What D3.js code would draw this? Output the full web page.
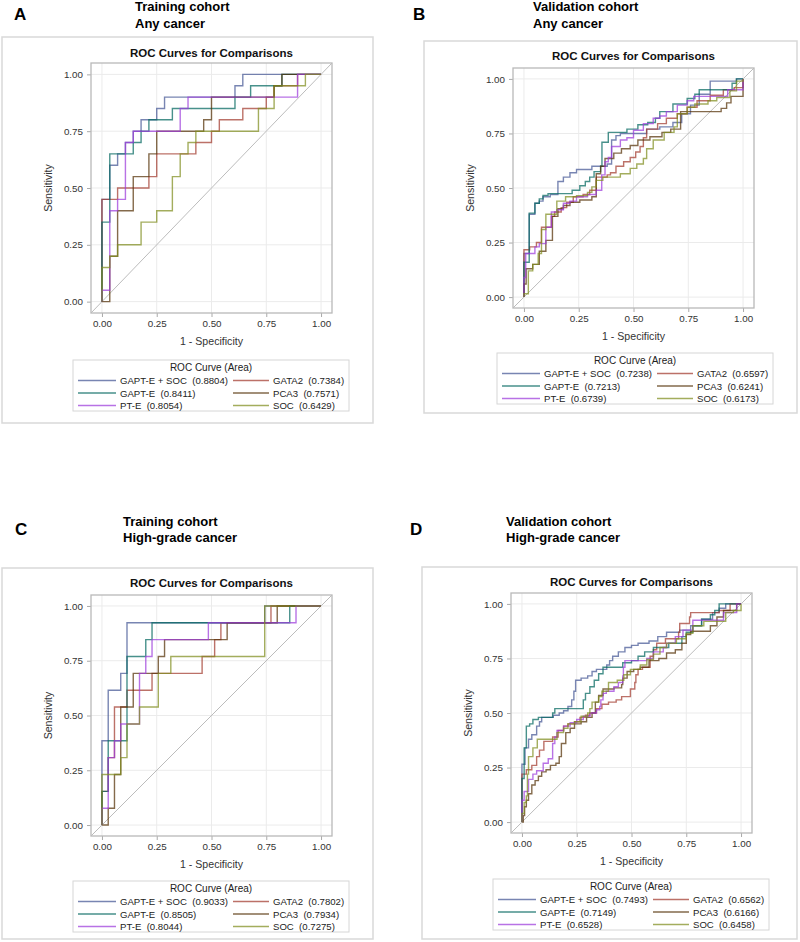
<!DOCTYPE html>
<html><head><meta charset="utf-8">
<script src="https://cdn.jsdelivr.net/npm/d3@7"></script>
<style>
body{margin:0;background:#fff;}
svg text{font-family:"Liberation Sans",Arial,Helvetica,sans-serif;white-space:pre;}
</style>
</head><body>
<svg id="chart" width="800" height="942"></svg>
<script>
// ---------------- DATA ----------------
const seriesNames = ["GAPT-E + SOC","GATA2","GAPT-E","PCA3","PT-E","SOC"];
const seriesColors = ["#445694","#A23A2E","#01665E","#543005","#9D3CDB","#7F8E1F"];
const tickValues = [0,0.25,0.5,0.75,1];
const tickLabels = ["0.00","0.25","0.50","0.75","1.00"];

// Panel A: training cohort, any cancer (points: [false positives count, true positives count]; 28 negatives, 20 positives)
const A_nNeg = 28, A_nPos = 20;
const A_gapteSoc = [[0,0],[0,9],[1,12],[2,13],[3,14],[4,15],[5,16],[7,17],[8,18],[17,19],[18,20],[28,20]];
const A_gata2    = [[0,0],[0,9],[2,10],[6,11],[7,13],[12,14],[14,15],[15,16],[18,17],[21,18],[22,19],[25,20],[28,20]];
const A_gapte    = [[0,0],[0,7],[1,13],[4,14],[5,15],[6,16],[9,17],[17,18],[19,19],[23,20],[28,20]];
const A_pca3     = [[0,0],[1,4],[2,8],[4,11],[6,13],[7,15],[13,16],[14,18],[22,19],[23,20],[28,20]];
const A_pte      = [[0,0],[0,1],[1,8],[2,9],[3,14],[4,15],[10,17],[11,18],[25,20],[28,20]];
const A_soc      = [[0,0],[0,3],[1,4],[2,5],[5,7],[7,8],[9,11],[10,13],[11,14],[12,15],[20,17],[22,19],[26,20],[28,20]];
const A_auc = ["0.8804","0.7384","0.8411","0.7571","0.8054","0.6429"];

// Panel B: validation cohort, any cancer ([1-specificity, sensitivity])
const B_gapteSoc = [[0,0],[0,0.2],[0.024,0.38],[0.05,0.43],[0.07,0.44],[0.087,0.46],[0.12,0.47],[0.155,0.53],[0.18,0.55],[0.21,0.57],[0.24,0.585],[0.31,0.6],[0.38,0.61],[0.40,0.72],[0.42,0.74],[0.44,0.75],[0.56,0.77],[0.62,0.78],[0.68,0.80],[0.72,0.84],[0.76,0.88],[0.80,0.93],[0.85,0.99],[0.97,1.0],[1,1]];
const B_gata2    = [[0,0],[0,0.217],[0.026,0.23],[0.057,0.25],[0.08,0.32],[0.125,0.37],[0.14,0.39],[0.17,0.41],[0.195,0.435],[0.225,0.46],[0.27,0.47],[0.3,0.49],[0.33,0.55],[0.38,0.56],[0.395,0.57],[0.42,0.6],[0.455,0.62],[0.485,0.64],[0.51,0.665],[0.53,0.69],[0.545,0.73],[0.56,0.77],[0.61,0.795],[0.65,0.82],[0.7,0.84],[0.745,0.87],[0.79,0.9],[0.85,0.925],[0.91,0.95],[0.96,0.96],[1.0,1.0]];
const B_gapte    = [[0,0],[0,0.16],[0.024,0.385],[0.05,0.43],[0.07,0.45],[0.087,0.466],[0.11,0.474],[0.22,0.49],[0.255,0.51],[0.28,0.53],[0.3,0.55],[0.32,0.575],[0.35,0.6],[0.356,0.71],[0.385,0.755],[0.47,0.77],[0.52,0.79],[0.565,0.80],[0.6,0.82],[0.62,0.85],[0.68,0.885],[0.745,0.91],[0.78,0.93],[0.80,0.95],[0.95,0.98],[0.97,1.0],[1,1]];
const B_pca3     = [[0,0],[0,0.06],[0.01,0.13],[0.04,0.15],[0.07,0.21],[0.1,0.26],[0.13,0.37],[0.155,0.405],[0.18,0.42],[0.21,0.435],[0.255,0.445],[0.31,0.46],[0.33,0.565],[0.35,0.6],[0.37,0.635],[0.41,0.66],[0.445,0.68],[0.485,0.695],[0.52,0.72],[0.575,0.735],[0.63,0.755],[0.67,0.77],[0.715,0.85],[0.9,0.865],[0.925,0.89],[0.945,0.92],[1.0,1.0]];
const B_pte      = [[0,0],[0,0.09],[0.008,0.2],[0.05,0.23],[0.07,0.245],[0.1,0.32],[0.125,0.39],[0.15,0.40],[0.18,0.43],[0.21,0.44],[0.24,0.46],[0.29,0.47],[0.33,0.49],[0.355,0.56],[0.37,0.62],[0.385,0.64],[0.40,0.69],[0.44,0.72],[0.47,0.73],[0.50,0.765],[0.545,0.795],[0.59,0.82],[0.62,0.83],[0.65,0.85],[0.70,0.88],[0.745,0.90],[0.775,0.92],[0.93,0.95],[1.0,1.0]];
const B_soc      = [[0,0],[0,0.015],[0.02,0.12],[0.04,0.15],[0.065,0.2],[0.08,0.31],[0.1,0.38],[0.15,0.44],[0.19,0.46],[0.24,0.465],[0.29,0.48],[0.31,0.505],[0.33,0.535],[0.36,0.55],[0.44,0.565],[0.485,0.59],[0.515,0.61],[0.545,0.635],[0.56,0.68],[0.59,0.72],[0.64,0.755],[0.685,0.78],[0.7,0.84],[0.745,0.87],[0.78,0.885],[0.84,0.9],[0.88,0.915],[0.94,0.945],[0.97,0.99],[1.0,1.0]];
const B_auc = ["0.7238","0.6597","0.7213","0.6241","0.6739","0.6173"];

// Panel C: training cohort, high-grade cancer (counts; 35 negatives, 13 positives)
const C_nNeg = 35, C_nPos = 13;
const C_gapteSoc = [[0,0],[0,5],[1,8],[3,9],[4,12],[26,13],[35,13]];
const C_gata2    = [[0,0],[0,2],[1,4],[2,7],[4,8],[8,9],[16,10],[18,11],[19,12],[27,13],[35,13]];
const C_gapte    = [[0,0],[0,2],[1,5],[4,10],[7,11],[8,12],[30,13],[35,13]];
const C_pca3     = [[0,0],[1,1],[2,3],[3,7],[5,9],[9,10],[10,11],[20,12],[28,13],[35,13]];
const C_pte      = [[0,0],[0,1],[1,4],[2,5],[3,6],[6,9],[7,10],[8,11],[17,12],[31,13],[35,13]];
const C_soc      = [[0,0],[0,3],[3,4],[4,6],[6,7],[9,9],[11,10],[26,13],[35,13]];
const C_auc = ["0.9033","0.7802","0.8505","0.7934","0.8044","0.7275"];

// Panel D: validation cohort, high-grade cancer ([1-specificity, sensitivity])
const D_gapteSoc = [[0,0],[0,0.265],[0.014,0.34],[0.03,0.38],[0.045,0.40],[0.067,0.44],[0.08,0.46],[0.09,0.48],[0.143,0.49],[0.17,0.50],[0.19,0.51],[0.21,0.53],[0.227,0.56],[0.237,0.6],[0.245,0.65],[0.27,0.66],[0.30,0.67],[0.32,0.69],[0.34,0.70],[0.387,0.72],[0.40,0.74],[0.414,0.76],[0.44,0.78],[0.47,0.80],[0.50,0.81],[0.53,0.82],[0.58,0.83],[0.62,0.85],[0.66,0.87],[0.72,0.88],[0.77,0.90],[0.82,0.93],[0.87,0.96],[0.90,0.98],[0.93,1.0],[1,1]];
const D_gata2    = [[0,0],[0,0.22],[0.02,0.24],[0.045,0.26],[0.067,0.3],[0.08,0.33],[0.1,0.37],[0.14,0.39],[0.165,0.42],[0.19,0.44],[0.21,0.45],[0.24,0.46],[0.265,0.48],[0.29,0.49],[0.31,0.5],[0.34,0.52],[0.365,0.54],[0.395,0.55],[0.43,0.56],[0.455,0.575],[0.495,0.61],[0.515,0.64],[0.52,0.675],[0.53,0.70],[0.55,0.71],[0.585,0.76],[0.6,0.79],[0.615,0.82],[0.655,0.84],[0.715,0.87],[0.72,0.91],[0.765,0.94],[0.77,0.96],[0.9,0.97],[0.95,1.0],[1,1]];
const D_gapte    = [[0,0],[0,0.2],[0.01,0.34],[0.02,0.44],[0.035,0.45],[0.05,0.47],[0.075,0.48],[0.14,0.5],[0.15,0.52],[0.28,0.56],[0.29,0.59],[0.31,0.62],[0.33,0.65],[0.35,0.68],[0.37,0.71],[0.46,0.73],[0.5,0.74],[0.53,0.76],[0.56,0.78],[0.6,0.8],[0.67,0.82],[0.73,0.85],[0.75,0.87],[0.78,0.9],[0.82,0.93],[0.86,0.95],[0.88,0.97],[0.9,1.0],[1,1]];
const D_pca3     = [[0,0],[0.006,0.03],[0.012,0.07],[0.02,0.1],[0.03,0.13],[0.045,0.17],[0.06,0.19],[0.075,0.21],[0.09,0.23],[0.11,0.24],[0.13,0.26],[0.155,0.27],[0.17,0.3],[0.18,0.36],[0.2,0.41],[0.22,0.43],[0.24,0.45],[0.27,0.46],[0.295,0.48],[0.32,0.5],[0.335,0.55],[0.35,0.58],[0.37,0.61],[0.42,0.615],[0.455,0.63],[0.46,0.66],[0.48,0.69],[0.51,0.70],[0.54,0.71],[0.58,0.74],[0.625,0.75],[0.66,0.775],[0.7,0.79],[0.73,0.82],[0.75,0.86],[0.77,0.875],[0.86,0.9],[0.89,0.94],[0.92,0.97],[0.98,1.0],[1,1]];
const D_pte      = [[0,0],[0,0.1],[0.01,0.14],[0.03,0.196],[0.05,0.22],[0.067,0.235],[0.097,0.27],[0.12,0.29],[0.14,0.36],[0.15,0.39],[0.16,0.42],[0.19,0.44],[0.22,0.455],[0.25,0.47],[0.28,0.485],[0.31,0.5],[0.34,0.515],[0.355,0.53],[0.36,0.56],[0.37,0.59],[0.385,0.6],[0.42,0.62],[0.44,0.64],[0.46,0.67],[0.463,0.71],[0.47,0.74],[0.57,0.75],[0.6,0.78],[0.645,0.8],[0.66,0.82],[0.70,0.85],[0.735,0.88],[0.78,0.925],[0.92,0.96],[0.98,1.0],[1,1]];
const D_soc      = [[0,0],[0,0.04],[0.01,0.09],[0.02,0.12],[0.025,0.22],[0.03,0.3],[0.05,0.34],[0.07,0.38],[0.16,0.41],[0.19,0.43],[0.21,0.45],[0.24,0.46],[0.27,0.485],[0.3,0.5],[0.31,0.52],[0.32,0.55],[0.35,0.575],[0.365,0.6],[0.395,0.64],[0.435,0.65],[0.465,0.675],[0.495,0.7],[0.54,0.72],[0.57,0.745],[0.6,0.77],[0.63,0.8],[0.66,0.82],[0.705,0.84],[0.75,0.865],[0.78,0.9],[0.83,0.92],[0.93,0.96],[0.965,0.97],[1.0,1.0]];
const D_auc = ["0.7493","0.6562","0.7149","0.6166","0.6528","0.6458"];

// ---------------- LAYOUT ----------------
const panels = [
  {letter:"A", lx:14, ly:20, t1:"Training cohort", t2:"Any cancer", tx:135, ty1:11, ty2:28,
   box:[2,37,373,423], titleY:57, frame:[91,63,332,313], leg:[73,360],
   curves:[A_gapteSoc,A_gata2,A_gapte,A_pca3,A_pte,A_soc], auc:A_auc, nx:A_nNeg, ny:A_nPos},
  {letter:"B", lx:413, ly:20, t1:"Validation cohort", t2:"Any cancer", tx:533, ty1:11, ty2:28,
   box:[424,41,797,413], titleY:60, frame:[513,68,754,308], leg:[497,353],
   curves:[B_gapteSoc,B_gata2,B_gapte,B_pca3,B_pte,B_soc], auc:B_auc, nx:1, ny:1},
  {letter:"C", lx:15, ly:535, t1:"Training cohort", t2:"High-grade cancer", tx:123, ty1:526, ty2:542,
   box:[2,568,373,939], titleY:587, frame:[91,595,332,836], leg:[73,881],
   curves:[C_gapteSoc,C_gata2,C_gapte,C_pca3,C_pte,C_soc], auc:C_auc, nx:C_nNeg, ny:C_nPos},
  {letter:"D", lx:410, ly:535, t1:"Validation cohort", t2:"High-grade cancer", tx:506, ty1:526, ty2:542,
   box:[422,567,797,939], titleY:586, frame:[511,593,752,833], leg:[493,879],
   curves:[D_gapteSoc,D_gata2,D_gapte,D_pca3,D_pte,D_soc], auc:D_auc, nx:1, ny:1}
];

const svg = d3.select("#chart");

panels.forEach(p => {
  const g = svg.append("g");
  const [bx0,by0,bx1,by1] = p.box;
  g.append("rect").attr("x",bx0).attr("y",by0).attr("width",bx1-bx0).attr("height",by1-by0)
    .attr("fill","none").attr("stroke","#d9d9d9").attr("stroke-width",1.5);

  g.append("text").attr("x",p.lx).attr("y",p.ly).attr("font-size",17).attr("font-weight","bold").attr("fill","#000").text(p.letter);
  g.append("text").attr("x",p.tx).attr("y",p.ty1).attr("font-size",13).attr("font-weight","bold").attr("fill","#000").text(p.t1);
  g.append("text").attr("x",p.tx).attr("y",p.ty2).attr("font-size",13).attr("font-weight","bold").attr("fill","#000").text(p.t2);

  const [fl,ft,fr,fb] = p.frame;
  const x = d3.scaleLinear().domain([-0.05,1.05]).range([fl,fr]);
  const y = d3.scaleLinear().domain([-0.05,1.05]).range([fb,ft]);

  g.append("text").attr("x",(fl+fr)/2).attr("y",p.titleY).attr("text-anchor","middle")
    .attr("font-size",11.5).attr("font-weight","bold").attr("fill","#111").text("ROC Curves for Comparisons");

  // grid
  g.append("g").selectAll("line").data(tickValues).join("line")
    .attr("x1",d=>x(d)).attr("x2",d=>x(d)).attr("y1",ft).attr("y2",fb)
    .attr("stroke","#ebebeb").attr("stroke-width",1);
  g.append("g").selectAll("line").data(tickValues).join("line")
    .attr("y1",d=>y(d)).attr("y2",d=>y(d)).attr("x1",fl).attr("x2",fr)
    .attr("stroke","#ebebeb").attr("stroke-width",1);

  // axes
  const ax = g.append("g").attr("transform",`translate(0,${fb})`)
    .call(d3.axisBottom(x).tickValues(tickValues).tickFormat((d,i)=>tickLabels[i]).tickSize(4).tickPadding(3));
  const ay = g.append("g").attr("transform",`translate(${fl},0)`)
    .call(d3.axisLeft(y).tickValues(tickValues).tickFormat((d,i)=>tickLabels[i]).tickSize(4).tickPadding(4));
  [ax,ay].forEach(a=>{
    a.select(".domain").remove();
    a.selectAll(".tick line").attr("stroke","#aaa");
    a.selectAll(".tick text").attr("font-size",9.8).attr("fill","#333")
      .attr("font-family","'Liberation Sans',Arial,sans-serif");
  });

  // frame
  g.append("rect").attr("x",fl).attr("y",ft).attr("width",fr-fl).attr("height",fb-ft)
    .attr("fill","none").attr("stroke","#b9b9b9").attr("stroke-width",1.3);

  // diagonal reference
  g.append("line").attr("x1",x(-0.05)).attr("y1",y(-0.05)).attr("x2",x(1.05)).attr("y2",y(1.05))
    .attr("stroke","#bcbcbc").attr("stroke-width",1);

  // curves
  const line = d3.line().x(d=>x(d[0]/p.nx)).y(d=>y(d[1]/p.ny)).curve(d3.curveStepAfter);
  p.curves.forEach((c,i)=>{
    g.append("path").datum(c).attr("d",line).attr("fill","none")
      .attr("stroke",seriesColors[i]).attr("stroke-opacity",0.72).attr("stroke-width",1.4);
  });

  // axis labels
  g.append("text").attr("x",x(0.5)).attr("y",fb+32).attr("text-anchor","middle")
    .attr("font-size",10.6).attr("fill","#333").text("1 - Specificity");
  g.append("text").attr("transform",`translate(${fl-43},${y(0.5)}) rotate(-90)`)
    .attr("text-anchor","middle").attr("dy","0.35em")
    .attr("font-size",10.6).attr("fill","#333").text("Sensitivity");

  // legend
  const [lx0,ly0] = p.leg;
  const lw = 276, lh = 51;
  g.append("rect").attr("x",lx0).attr("y",ly0).attr("width",lw).attr("height",lh)
    .attr("fill","#fff").attr("stroke","#d6d6d6").attr("stroke-width",1);
  g.append("text").attr("x",lx0+lw/2).attr("y",ly0+10.5).attr("text-anchor","middle")
    .attr("font-size",10).attr("fill","#222").text("ROC Curve (Area)");
  seriesNames.forEach((nm,i)=>{
    const col = i%2, row = Math.floor(i/2);
    const cy = ly0 + 20.5 + row*12.5;
    const x0 = lx0 + (col===0 ? 5 : 160);
    const x1 = x0 + (col===0 ? 38 : 36);
    g.append("line").attr("x1",x0).attr("x2",x1).attr("y1",cy).attr("y2",cy)
      .attr("stroke",seriesColors[i]).attr("stroke-opacity",0.72).attr("stroke-width",1.6);
    g.append("text").attr("x",x1+4).attr("y",cy+3.5).attr("font-size",9.6).attr("fill","#222")
      .attr("xml:space","preserve")
      .text(nm + "  (" + p.auc[i] + ")");
  });
});
</script>
</body></html>
